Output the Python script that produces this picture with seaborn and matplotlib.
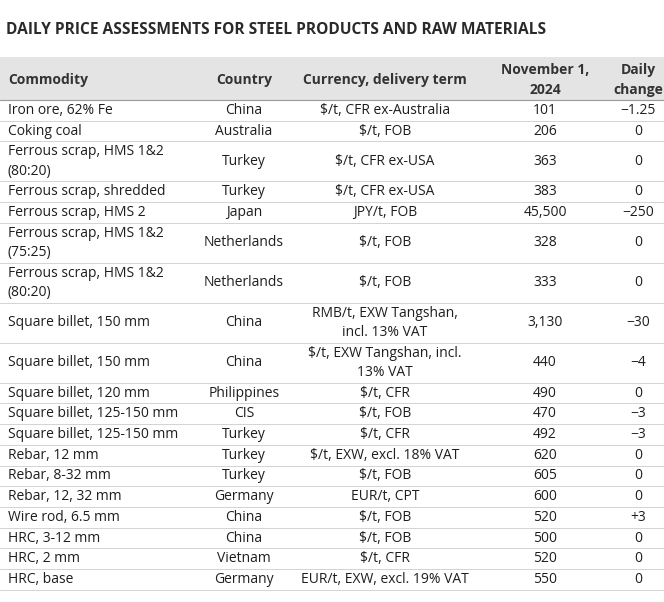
import seaborn as sns
import matplotlib.pyplot as plt

sns.set_style("white")
plt.rcParams['font.family'] = ['Open Sans', 'DejaVu Sans']

title = "DAILY PRICE ASSESSMENTS FOR STEEL PRODUCTS AND RAW MATERIALS"
headers = ["Commodity", "Country", "Currency, delivery term", "November 1,\n2024", "Daily\nchange"]

commodity = ["Iron ore, 62% Fe", "Coking coal", "Ferrous scrap, HMS 1&2\n(80:20)", "Ferrous scrap, shredded",
             "Ferrous scrap, HMS 2", "Ferrous scrap, HMS 1&2\n(75:25)", "Ferrous scrap, HMS 1&2\n(80:20)",
             "Square billet, 150 mm", "Square billet, 150 mm", "Square billet, 120 mm", "Square billet, 125-150 mm",
             "Square billet, 125-150 mm", "Rebar, 12 mm", "Rebar, 8-32 mm", "Rebar, 12, 32 mm", "Wire rod, 6.5 mm",
             "HRC, 3-12 mm", "HRC, 2 mm", "HRC, base"]
country = ["China", "Australia", "Turkey", "Turkey", "Japan", "Netherlands", "Netherlands", "China", "China",
           "Philippines", "CIS", "Turkey", "Turkey", "Turkey", "Germany", "China", "China", "Vietnam", "Germany"]
currency = ["$/t, CFR ex-Australia", "$/t, FOB", "$/t, CFR ex-USA", "$/t, CFR ex-USA", "JPY/t, FOB", "$/t, FOB",
            "$/t, FOB", "RMB/t, EXW Tangshan,\nincl. 13% VAT", "$/t, EXW Tangshan, incl.\n13% VAT", "$/t, CFR",
            "$/t, FOB", "$/t, CFR", "$/t, EXW, excl. 18% VAT", "$/t, FOB", "EUR/t, CPT", "$/t, FOB", "$/t, FOB",
            "$/t, CFR", "EUR/t, EXW, excl. 19% VAT"]
price = ["101", "206", "363", "383", "45,500", "328", "333", "3,130", "440", "490", "470", "492", "620", "605",
         "600", "520", "500", "520", "550"]
change = ["\u22121.25", "0", "0", "0", "\u2212250", "0", "0", "\u221230", "\u22124", "0", "\u22123", "\u22123", "0",
          "0", "0", "+3", "0", "0", "0"]

fig = plt.figure(figsize=(6.64, 6.02), dpi=100)
ax = fig.add_axes([0, 0, 1, 1])
ax.set_xlim(0, 664)
ax.set_ylim(602, 0)
ax.axis('off')

txt = '#1e1e1e'
ax.text(6, 30, title, fontsize=11.2, fontweight='bold', color='#2a2a2a', va='center')

# header
ax.add_patch(plt.Rectangle((0, 57), 664, 43, color='#e4e4e4', lw=0))
hx = [8, 244, 385, 545, 638]
ha = ['left', 'center', 'center', 'center', 'center']
for x, h, a in zip(hx, headers, ha):
    ax.text(x, 80, h, fontsize=10, fontweight='bold', color='#333333', ha=a, va='center', linespacing=1.5)

y = 100
ax.plot([0, 664], [y, y], color='#999999', lw=0.8)
for i in range(len(commodity)):
    two = any('\n' in s for s in (commodity[i], currency[i]))
    h = 40 if two else 20.7
    yc = y + h / 2
    cols = [commodity[i], country[i], currency[i], price[i], change[i]]
    for x, s, a in zip(hx, cols, ha):
        ax.text(x, yc, s, fontsize=10, color=txt, ha=a, va='center', linespacing=1.4)
    y += h
    ax.plot([0, 664], [y, y], color='#cccccc', lw=0.6)

fig.savefig('out.png', dpi=100, facecolor='white')
